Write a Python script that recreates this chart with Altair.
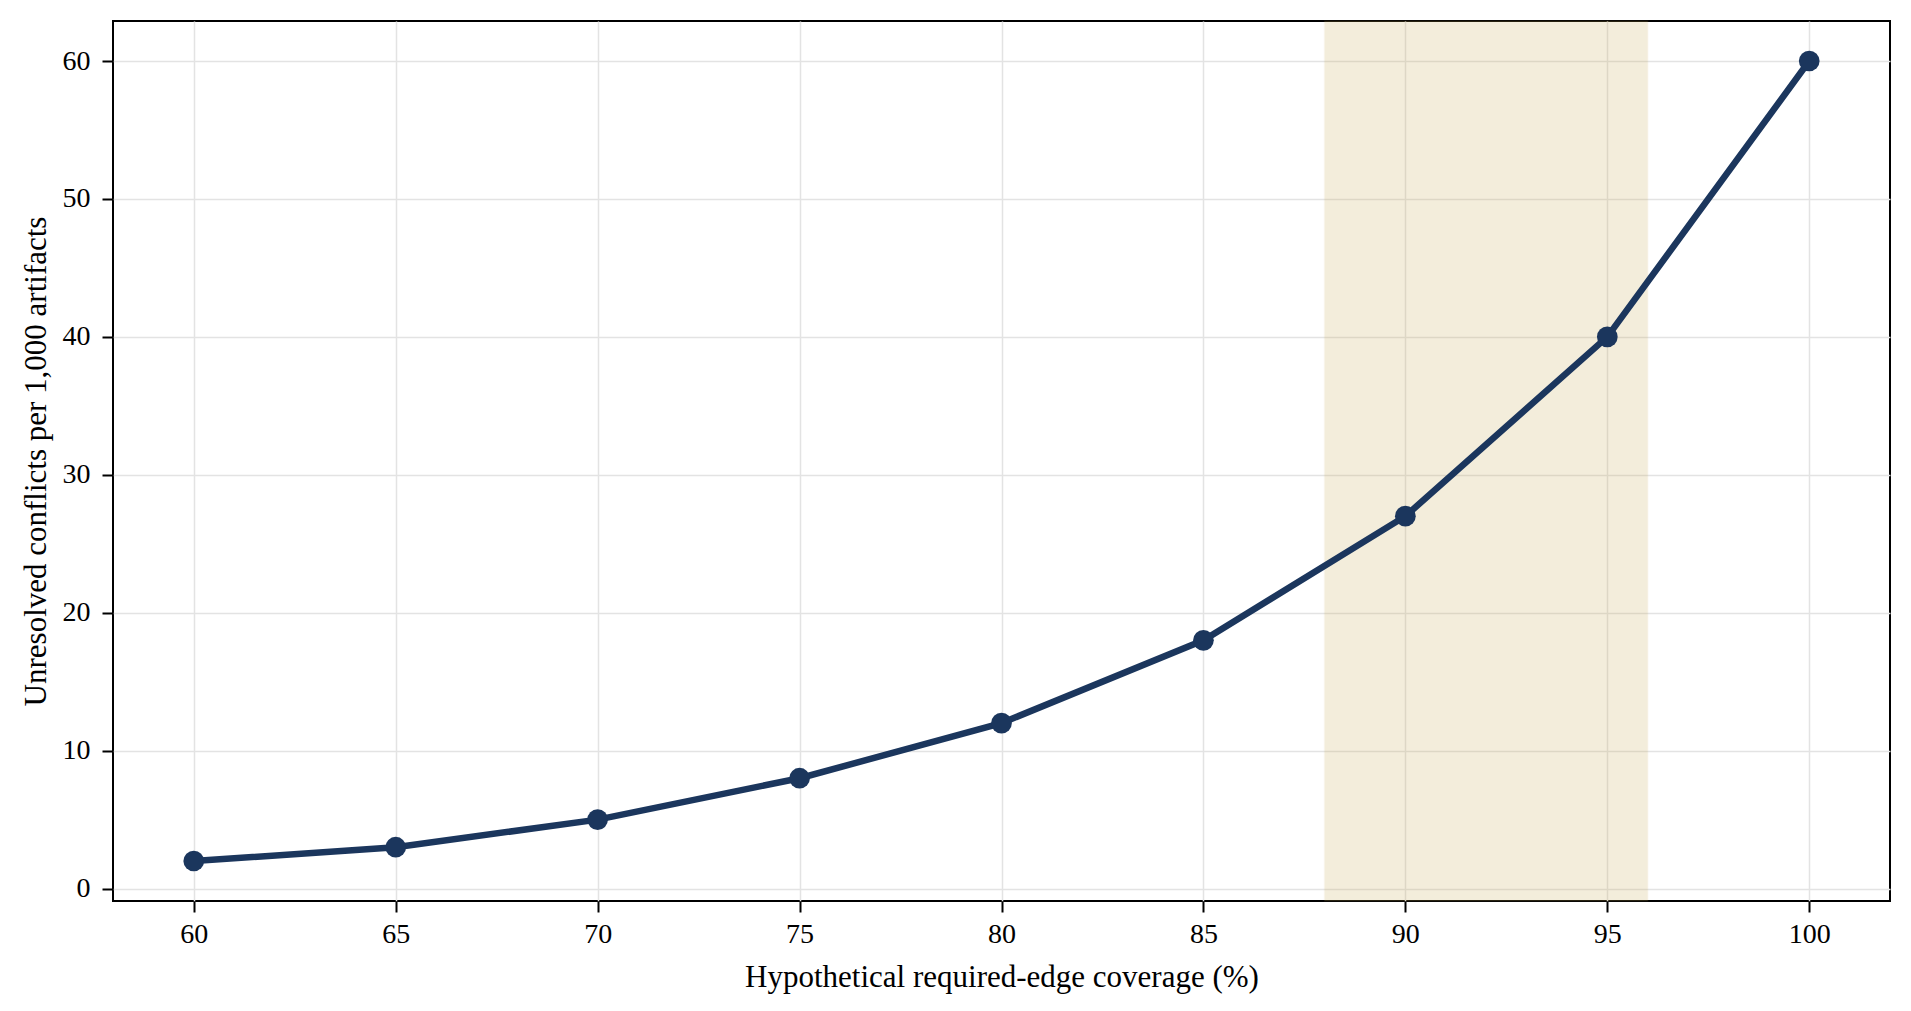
import pandas as pd
import altair as alt

# Data
coverage = [60, 65, 70, 75, 80, 85, 90, 95, 100]
conflicts = [2, 3, 5, 8, 12, 18, 27, 40, 60]
band_start = [88]
band_end = [96]

df = pd.DataFrame({"coverage": coverage, "conflicts": conflicts})
band = pd.DataFrame({"start": band_start, "end": band_end})

font = "Liberation Serif"
line_color = "#1b365d"

x_scale = alt.Scale(domain=[58, 102], nice=False, zero=False)
y_scale = alt.Scale(domain=[-0.9, 62.9], nice=False, zero=False)

x_axis = alt.Axis(
    values=coverage,
    title="Hypothetical required-edge coverage (%)",
    titleY=85,
    titleBaseline="alphabetic",
    labelBaseline="alphabetic",
    labelPadding=30,
)
y_axis = alt.Axis(
    values=[0, 10, 20, 30, 40, 50, 60],
    title="Unresolved conflicts per 1,000 artifacts",
    titleX=-61,
    titleY=440,
    labelPadding=12,
)

# Shaded target region
shade = alt.Chart(band).mark_rect(
    color="#c8a951", opacity=0.2, stroke="#c8a951", strokeOpacity=0.35, strokeWidth=1.5
).encode(
    x=alt.X("start:Q", scale=x_scale, axis=x_axis),
    x2="end:Q",
    y=alt.value(0),
    y2=alt.value(880),
)

line = alt.Chart(df).mark_line(color=line_color, strokeWidth=6.5).encode(
    x=alt.X("coverage:Q", scale=x_scale, axis=x_axis),
    y=alt.Y("conflicts:Q", scale=y_scale, axis=y_axis),
)

points = alt.Chart(df).mark_circle(color=line_color, size=430, opacity=1).encode(
    x=alt.X("coverage:Q", scale=x_scale),
    y=alt.Y("conflicts:Q", scale=y_scale),
)

chart = (shade + line + points).properties(
    width=1777,
    height=880,
    autosize=alt.AutoSizeParams(type="none"),
    padding={"left": 105, "top": 13, "right": 13, "bottom": 102},
).configure_view(
    stroke="black",
    strokeWidth=2,
).configure_axis(
    labelFont=font,
    titleFont=font,
    labelFontSize=28,
    titleFontSize=31,
    titleFontWeight="normal",
    labelColor="black",
    titleColor="black",
    tickColor="black",
    tickSize=11,
    tickWidth=2,
    domain=False,
    grid=True,
    gridColor="#e3e3e3",
    gridWidth=1.5,
)

chart.save("out.html", embed_options={"renderer": "svg", "actions": False})
